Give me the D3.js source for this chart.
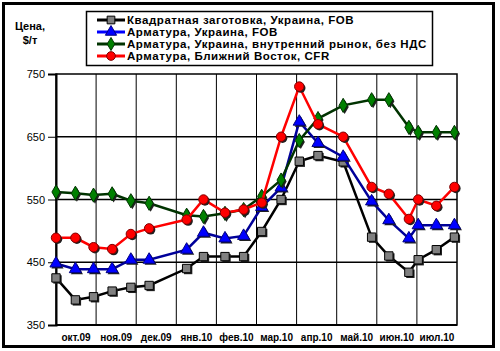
<!DOCTYPE html>
<html>
<head>
<meta charset="utf-8">
<script src="https://cdn.jsdelivr.net/npm/d3@7"></script>
<style>
    body { margin: 0; background: #fff; }
    text { font-family: "Liberation Sans", Arial, sans-serif; }
</style>
</head>
<body>
<div id="chart"></div>
<script>
// observation dates (every ~2 weeks)
var vDates = ["2009-10-01", "2009-10-16", "2009-10-30", "2009-11-13", "2009-11-27", "2009-12-11",
    "2010-01-09", "2010-01-22", "2010-02-07", "2010-02-20", "2010-03-05", "2010-03-20",
    "2010-04-03", "2010-04-17", "2010-05-06", "2010-05-28", "2010-06-10", "2010-06-25",
    "2010-07-02", "2010-07-16", "2010-07-30"];

// month labels on the x axis
var vMonths = ["окт.09", "ноя.09", "дек.09", "янв.10", "фев.10", "мар.10", "апр.10", "май.10", "июн.10", "июл.10"];

// y ticks
var vYTicks = [350, 450, 550, 650, 750];

// series values, $/т
var vBillet = [425, 390, 395, 404, 410, 413, 440, 459, 459, 459, 499, 550, 611, 620, 610, 490, 460, 434, 454, 470, 490];
var vRebarFob = [448, 439, 439, 439, 454, 454, 470, 497, 488, 492, 538, 569, 674, 640, 618, 547, 517, 488, 509, 509, 509];
var vRebarDomestic = [562, 560, 557, 559, 548, 544, 525, 523, 528, 534, 555, 581, 644, 679, 700, 709, 709, 665, 657, 657, 657];
var vRebarMe = [489, 489, 474, 471, 495, 504, 518, 550, 529, 534, 545, 650, 730, 670, 650, 570, 559, 519, 550, 540, 570];

var vSeriesNames = [
    "Квадратная заготовка, Украина, FOB",
    "Арматура, Украина, FOB",
    "Арматура, Украина, внутренний рынок, без НДС",
    "Арматура, Ближний Восток, CFR"
];

var vSeries = [
    { name: vSeriesNames[0], values: vBillet, line: "#000000", fill: "#808080", stroke: "#000000", shape: d3.symbolSquare, size: 70 },
    { name: vSeriesNames[1], values: vRebarFob, line: "#000099", fill: "#0000ff", stroke: "#000080", shape: d3.symbolTriangle, size: 64 },
    { name: vSeriesNames[2], values: vRebarDomestic, line: "#003300", fill: "#008000", stroke: "#003300", shape: d3.symbolDiamond, size: 58 },
    { name: vSeriesNames[3], values: vRebarMe, line: "#ff0000", fill: "#ff0000", stroke: "#800000", shape: d3.symbolCircle, size: 70 }
];

var vWidth = 500, vHeight = 351;
var vPlot = { left: 56, right: 457, top: 74, bottom: 325 };

var svg = d3.select("#chart")
    .append("svg")
    .attr("width", vWidth)
    .attr("height", vHeight);

// outer frame
svg.append("rect")
    .attr("x", 3.5).attr("y", 3.5)
    .attr("width", 490).attr("height", 343)
    .attr("fill", "#fff")
    .attr("stroke", "#000")
    .attr("stroke-width", 3);

// months are equal width, date -> fractional month index
var vParse = d3.timeParse("%Y-%m-%d");
function monthPos(aStr) {
    var vD = vParse(aStr);
    var vIdx = (vD.getFullYear() - 2009) * 12 + vD.getMonth() - 9;
    var vDays = new Date(vD.getFullYear(), vD.getMonth() + 1, 0).getDate();
    return vIdx + (vD.getDate() - 1) / vDays;
}

var x = d3.scaleLinear().domain([0, vMonths.length]).range([vPlot.left, vPlot.right]);
var y = d3.scaleLinear().domain([350, 750]).range([vPlot.bottom, vPlot.top]);

// grid
svg.append("g")
    .selectAll("line")
    .data(d3.range(1, vMonths.length))
    .enter()
    .append("line")
    .attr("x1", function (d) { return x(d); })
    .attr("x2", function (d) { return x(d); })
    .attr("y1", vPlot.top).attr("y2", vPlot.bottom)
    .attr("stroke", "#000").attr("stroke-width", 1);

svg.append("g")
    .selectAll("line")
    .data(vYTicks.slice(1, -1))
    .enter()
    .append("line")
    .attr("x1", vPlot.left).attr("x2", vPlot.right)
    .attr("y1", function (d) { return y(d); })
    .attr("y2", function (d) { return y(d); })
    .attr("stroke", "#000").attr("stroke-width", 1.5);

// plot border
svg.append("rect")
    .attr("x", vPlot.left).attr("y", vPlot.top)
    .attr("width", vPlot.right - vPlot.left)
    .attr("height", vPlot.bottom - vPlot.top)
    .attr("fill", "none")
    .attr("stroke", "#000").attr("stroke-width", 1.5);

// y axis
var gY = svg.append("g")
    .attr("transform", "translate(" + vPlot.left + ",0)")
    .call(d3.axisLeft(y).tickValues(vYTicks).tickSize(8).tickPadding(3));
gY.select(".domain").attr("stroke-width", 2);
gY.selectAll("text").style("font-size", "11px").attr("fill", "#000");

// x axis - labels between the gridlines
svg.append("line")
    .attr("x1", vPlot.left).attr("x2", vPlot.right)
    .attr("y1", vPlot.bottom).attr("y2", vPlot.bottom)
    .attr("stroke", "#000").attr("stroke-width", 2);

svg.append("g")
    .selectAll("text")
    .data(vMonths)
    .enter()
    .append("text")
    .attr("x", function (d, i) { return x(i + 0.5); })
    .attr("y", 341)
    .attr("text-anchor", "middle")
    .style("font-size", "10px")
    .style("font-weight", "bold")
    .text(function (d) { return d; });

// y title
svg.append("text").attr("x", 30).attr("y", 30).attr("text-anchor", "middle")
    .style("font-size", "11px").style("font-weight", "bold").text("Цена,");
svg.append("text").attr("x", 30).attr("y", 44).attr("text-anchor", "middle")
    .style("font-size", "11px").style("font-weight", "bold").text("$/т");

// series
var vLine = d3.line()
    .x(function (d, i) { return x(monthPos(vDates[i])); })
    .y(function (d) { return y(d); });

vSeries.forEach(function (aS) {
    var g = svg.append("g");
    g.append("path")
        .attr("d", vLine(aS.values))
        .attr("fill", "none")
        .attr("stroke", aS.line)
        .attr("stroke-width", 2.5);

    var vSym = d3.symbol().type(aS.shape).size(aS.size);
    // marker shadow
    g.selectAll("path.shadow")
        .data(aS.values)
        .enter()
        .append("path")
        .attr("class", "shadow")
        .attr("d", vSym)
        .attr("transform", function (d, i) {
            return "translate(" + (x(monthPos(vDates[i])) + 1.5) + "," + (y(d) + 1.5) + ")";
        })
        .attr("fill", "#202020");
    g.selectAll("path.mark")
        .data(aS.values)
        .enter()
        .append("path")
        .attr("class", "mark")
        .attr("d", vSym)
        .attr("transform", function (d, i) {
            return "translate(" + x(monthPos(vDates[i])) + "," + y(d) + ")";
        })
        .attr("fill", aS.fill)
        .attr("stroke", aS.stroke)
        .attr("stroke-width", 1);
});

// legend
var gLeg = svg.append("g");
gLeg.append("rect")
    .attr("x", 86.5).attr("y", 11.5)
    .attr("width", 346).attr("height", 54)
    .attr("fill", "#fff")
    .attr("stroke", "#000").attr("stroke-width", 1.5);

vSeries.forEach(function (aS, i) {
    var vY = 20 + i * 12;
    gLeg.append("line")
        .attr("x1", 97).attr("x2", 125)
        .attr("y1", vY).attr("y2", vY)
        .attr("stroke", aS.line === "#000099" ? "#0000ff" : aS.line)
        .attr("stroke-width", 3);
    gLeg.append("path")
        .attr("d", d3.symbol().type(aS.shape).size(aS.size * 0.85)())
        .attr("transform", "translate(111," + vY + ")")
        .attr("fill", aS.fill)
        .attr("stroke", aS.stroke);
    gLeg.append("text")
        .attr("x", 127)
        .attr("y", vY + 4)
        .style("font-size", "11.5px")
        .style("font-weight", "bold")
        .style("letter-spacing", "0.55px")
        .text(aS.name);
});
</script>
</body>
</html>
